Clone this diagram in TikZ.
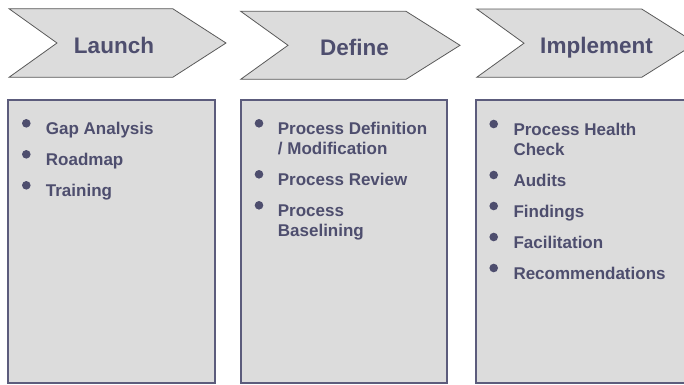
\documentclass[tikz,border=0pt]{standalone}
\usepackage{fontspec}
\setmainfont{Liberation Sans}
\definecolor{fillgray}{HTML}{DCDCDC}
\definecolor{ink}{HTML}{4E4E6E}
\definecolor{boxline}{HTML}{5C5C7C}
\definecolor{chevline}{HTML}{5A5A5A}
\begin{document}
\begin{tikzpicture}[x=1pt,y=-1pt,
  chevron/.style={fill=fillgray,draw=chevline,line width=0.8pt,line join=miter},
  panel/.style={fill=fillgray,draw=boxline,line width=2pt},
  title/.style={inner sep=0pt,anchor=base,text=ink,font=\fontsize{22.5}{27}\selectfont\bfseries},
  item/.style={inner sep=0pt,anchor=base west,text=ink,font=\fontsize{17}{20}\selectfont\bfseries},
  dot/.style={circle,fill=ink,inner sep=0pt,minimum size=8.6pt}]
\useasboundingbox (0,0) rectangle (684,384);
% chevrons
\path[chevron] (9,8.7) -- (172.7,8.7) -- (226,43) -- (172.7,77.3) -- (9,77.3) -- (57,43) -- cycle;
\path[chevron] (240.7,11.3) -- (406,11.3) -- (460,45.3) -- (406,79.3) -- (240.7,79.3) -- (288,45.3) -- cycle;
\path[chevron] (476.7,9) -- (641.7,9) -- (696,43.2) -- (641.7,77.3) -- (476.7,77.3) -- (524,43.2) -- cycle;
\node[title] (t1) at (114,53.3) {Launch};
\node[title] (t2) at (354.5,55) {Define};
\node[title] (t3) at (596.5,53.3) {Implement};
% panels
\path[panel] (7.5,99.7) rectangle (215,383);
\path[panel] (240.5,99.7) rectangle (447,383);
\path[panel] (476,99.7) rectangle (686,383);
% panel 1
\node[dot] (b11) at (26.3,123.3) {};
\node[item] (i11) at (45.7,134.3) {Gap Analysis};
\node[dot] (b12) at (26.3,154.3) {};
\node[item] (i12) at (45.7,165.3) {Roadmap};
\node[dot] (b13) at (26.3,185.3) {};
\node[item] (i13) at (45.7,196.3) {Training};
% panel 2
\node[dot] (b21) at (259,123.3) {};
\node[item] (i21a) at (277.7,134.3) {Process Definition};
\node[item] (i21b) at (277.7,154.3) {/ Modification};
\node[dot] (b22) at (259,174.3) {};
\node[item] (i22) at (277.7,185.3) {Process Review};
\node[dot] (b23) at (259,205.3) {};
\node[item] (i23a) at (277.7,216.3) {Process};
\node[item] (i23b) at (277.7,236.3) {Baselining};
% panel 3
\node[dot] (b31) at (493.7,124) {};
\node[item] (i31a) at (513.3,135) {Process Health};
\node[item] (i31b) at (513.3,155) {Check};
\node[dot] (b32) at (493.7,175) {};
\node[item] (i32) at (513.3,186) {Audits};
\node[dot] (b33) at (493.7,206) {};
\node[item] (i33) at (513.3,217) {Findings};
\node[dot] (b34) at (493.7,237) {};
\node[item] (i34) at (513.3,248) {Facilitation};
\node[dot] (b35) at (493.7,268) {};
\node[item] (i35) at (513.3,279) {Recommendations};
\end{tikzpicture}
\end{document}
